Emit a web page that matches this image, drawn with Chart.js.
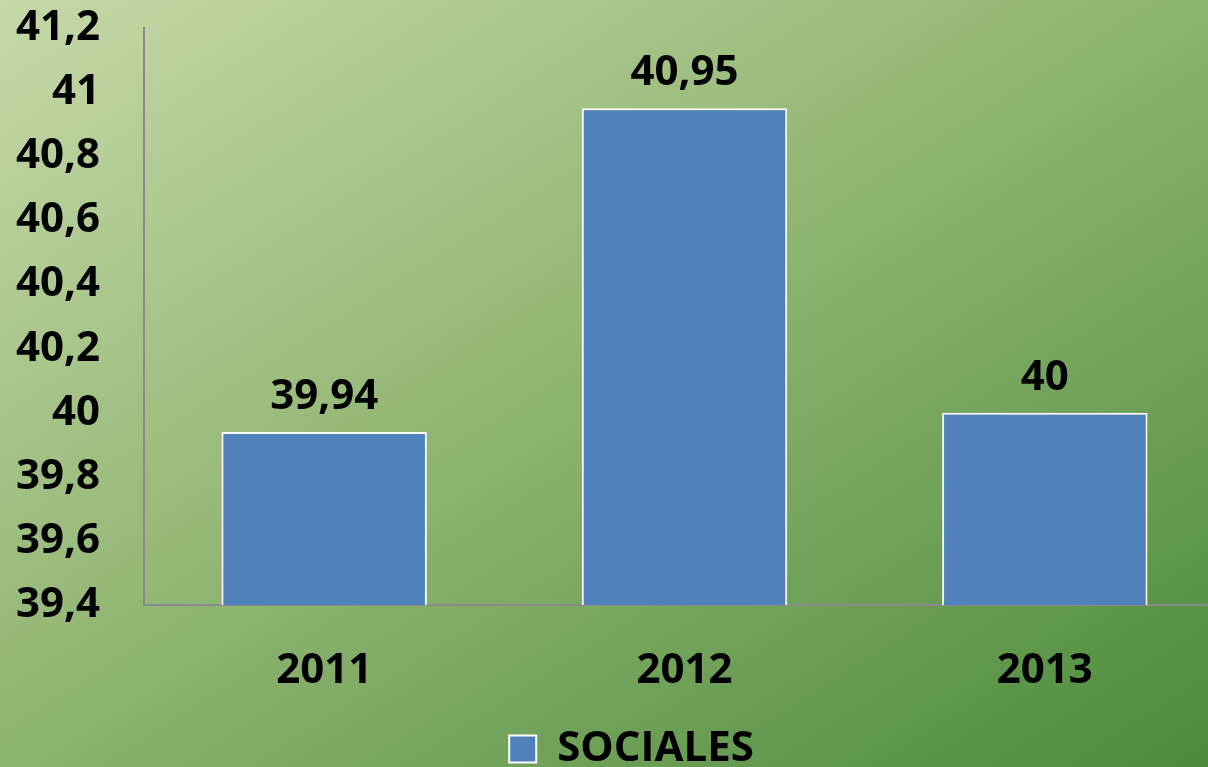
<!DOCTYPE html>
<html>
<head>
<meta charset="utf-8">
<script src="https://cdn.jsdelivr.net/npm/chart.js@4/dist/chart.umd.min.js"></script>
<style>
  html, body { margin: 0; padding: 0; width: 1208px; height: 767px; overflow: hidden; }
  body { background: linear-gradient(to bottom right, #c6d9a9 0%, #93b775 45%, #4b8b3b 100%); }
  #wrap { position: relative; width: 1225px; height: 780px; }
</style>
</head>
<body>
<div id="wrap"><canvas id="myChart"></canvas></div>
<script>
// datos
const years = ['2011', '2012', '2013'];
const sociales = [39.94, 40.95, 40];
const yMin = 39.4, yMax = 41.2, yStep = 0.2;

const FONT = "'Open Sans', sans-serif";
const fmt = v => (Math.round(v * 100) / 100).toString().replace('.', ',');

// etiquetas encima de cada barra
const valueLabels = {
  id: 'valueLabels',
  afterDatasetsDraw(chart) {
    const ctx = chart.ctx;
    ctx.save();
    ctx.font = "bold 42px " + FONT;
    ctx.fillStyle = '#000';
    ctx.textAlign = 'center';
    ctx.textBaseline = 'bottom';
    chart.getDatasetMeta(0).data.forEach((bar, i) => {
      ctx.fillText(fmt(sociales[i]), bar.x, bar.y - 14);
    });
    ctx.restore();
  }
};

// leyenda un poco a la derecha, como en el original
const legendShift = {
  id: 'legendShift',
  afterLayout(chart) {
    if (chart.legend) chart.legend.left += 38;
  }
};

new Chart(document.getElementById('myChart'), {
  type: 'bar',
  data: {
    labels: years,
    datasets: [{
      label: 'SOCIALES',
      data: sociales,
      backgroundColor: '#4f81bd',
      borderColor: '#ffffff',
      borderWidth: 2,
      categoryPercentage: 1,
      barPercentage: 0.57
    }]
  },
  options: {
    responsive: true,
    maintainAspectRatio: false,
    animation: false,
    layout: { padding: { top: 28, left: 0, right: 0, bottom: 0 } },
    plugins: {
      tooltip: { enabled: false },
      legend: {
        position: 'bottom',
        labels: {
          color: '#000',
          font: { family: FONT, size: 42, weight: 'bold' },
          boxWidth: 27, boxHeight: 27,
          padding: 0
        }
      }
    },
    scales: {
      x: {
        grid: { display: false, drawTicks: false },
        border: { color: '#8a8a8a', width: 2 },
        ticks: { color: '#000', font: { family: FONT, size: 42, weight: 'bold' }, padding: 41 },
        afterFit: s => { s.height = 123; }
      },
      y: {
        min: yMin, max: yMax,
        grid: { display: false, drawTicks: false },
        border: { color: '#8a8a8a', width: 2 },
        ticks: {
          stepSize: yStep,
          color: '#000',
          font: { family: FONT, size: 42, weight: 'bold' },
          padding: 44,
          callback: v => fmt(v)
        },
        afterFit: s => { s.width = 144; s.paddingTop = 0; s.paddingBottom = 0; }
      }
    }
  },
  plugins: [valueLabels, legendShift]
});
</script>
</body>
</html>
